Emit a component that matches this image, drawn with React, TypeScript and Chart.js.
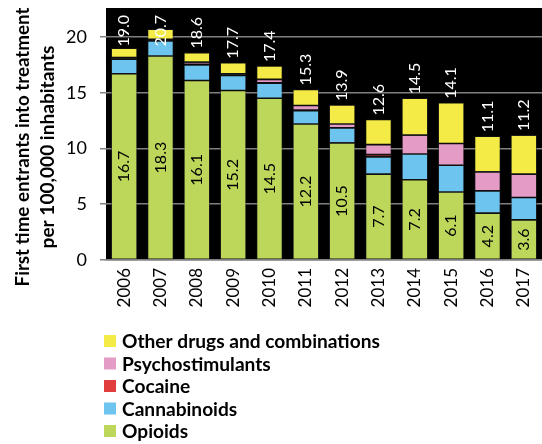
import React, { useEffect, useRef } from 'react';
import { Chart, registerables } from 'chart.js';

Chart.register(...registerables);

const years = ['2006', '2007', '2008', '2009', '2010', '2011', '2012', '2013', '2014', '2015', '2016', '2017'];
const opioids = [16.7, 18.3, 16.1, 15.2, 14.5, 12.2, 10.5, 7.7, 7.2, 6.1, 4.2, 3.6];
const cannabinoids = [1.3, 1.35, 1.4, 1.35, 1.35, 1.2, 1.35, 1.55, 2.3, 2.4, 2.0, 2.0];
const cocaine = [0.15, 0.05, 0.05, 0.05, 0.05, 0.05, 0.0, 0.2, 0.0, 0.0, 0.0, 0.0];
const psychostimulants = [0.0, 0.1, 0.2, 0.1, 0.3, 0.4, 0.35, 0.9, 1.7, 1.95, 1.7, 2.1];
const otherDrugs = [0.85, 0.9, 0.85, 1.0, 1.2, 1.45, 1.7, 2.25, 3.3, 3.65, 3.2, 3.5];

const yTicks = [0, 5, 10, 15, 20];
const seriesNames = ['Opioids', 'Cannabinoids', 'Cocaine', 'Psychostimulants', 'Other drugs and combinations'];
const seriesColors = ['#BDD75B', '#6DC4EE', '#E23D3D', '#E49BC6', '#F5EB47'];
const titleLines = ['First time entrants into treatment', 'per 100,000 inhabitants'];

const FONT = 'Lato, "Open Sans", sans-serif';

function fitSize(ctx: CanvasRenderingContext2D, text: string, weight: string, target: number) {
  ctx.font = `${weight} 100px ${FONT}`;
  return (100 * target) / ctx.measureText(text).width;
}

export default function App() {
  const ref = useRef<HTMLCanvasElement>(null);

  useEffect(() => {
    document.body.style.margin = '0';
    let chart: Chart | null = null;
    let cancelled = false;
    const canvas = ref.current!;
    const series = [opioids, cannabinoids, cocaine, psychostimulants, otherDrugs];
    const totals = years.map((_, i) => series.reduce((s, a) => s + a[i], 0));

    const bgPlugin = {
      id: 'bg',
      beforeDraw(c: any) {
        const { ctx, chartArea: a } = c;
        ctx.save();
        ctx.fillStyle = '#000';
        ctx.fillRect(a.left, a.top, a.right - a.left, a.bottom - a.top);
        ctx.restore();
      },
    };

    const labelPlugin = {
      id: 'barLabels',
      afterDatasetsDraw(c: any) {
        const { ctx, chartArea } = c;
        const meta = c.getDatasetMeta(0);
        const yScale = c.scales.y;
        ctx.save();
        ctx.font = `16px ${FONT}`;
        meta.data.forEach((el: any, i: number) => {
          const { x, y, base } = el.getProps(['x', 'y', 'base'], true);
          ctx.save();
          ctx.translate(x, (y + base) / 2);
          ctx.rotate(-Math.PI / 2);
          ctx.textAlign = 'center';
          ctx.textBaseline = 'middle';
          ctx.fillStyle = '#000';
          ctx.fillText(opioids[i].toFixed(1), 0, 0);
          ctx.restore();

          const txt = (Math.round(totals[i] * 10) / 10).toFixed(1);
          const w = ctx.measureText(txt).width;
          const top = yScale.getPixelForValue(totals[i]);
          let anchor = top - 4;
          const minAnchor = chartArea.top + 7 + w;
          if (anchor < minAnchor) anchor = minAnchor;
          ctx.save();
          ctx.translate(x, anchor);
          ctx.rotate(-Math.PI / 2);
          ctx.textAlign = 'left';
          ctx.textBaseline = 'middle';
          ctx.fillStyle = '#fff';
          ctx.fillText(txt, 0, 0);
          ctx.restore();
        });
        ctx.restore();
      },
    };

    const textPlugin = {
      id: 'texts',
      afterDraw(c: any) {
        const ctx: CanvasRenderingContext2D = c.ctx;
        ctx.save();
        const titleTargets = [279, 203];
        const titleX = [23, 48];
        titleLines.forEach((line, k) => {
          const size = fitSize(ctx, line, 'bold', titleTargets[k]);
          ctx.save();
          ctx.font = `bold ${size}px ${FONT}`;
          ctx.fillStyle = '#000';
          ctx.translate(titleX[k], 147);
          ctx.rotate(-Math.PI / 2);
          ctx.textAlign = 'center';
          ctx.textBaseline = 'middle';
          ctx.fillText(line, 0, 0);
          ctx.restore();
        });
        const lsize = fitSize(ctx, seriesNames[4], 'bold', 258);
        ctx.font = `bold ${lsize}px ${FONT}`;
        ctx.textAlign = 'left';
        ctx.textBaseline = 'middle';
        for (let r = 0; r < 5; r++) {
          const di = 4 - r;
          const cy = 341 + r * 22.5;
          ctx.fillStyle = seriesColors[di];
          ctx.fillRect(104, cy - 6, 12, 12);
          ctx.fillStyle = '#000';
          ctx.fillText(seriesNames[di], 122, cy + 1);
        }
        ctx.restore();
      },
    };

    const zeroPad = (s: any) => {
      s.paddingTop = 0;
      s.paddingBottom = 0;
      s.paddingLeft = 0;
      s.paddingRight = 0;
    };

    const build = () => {
      if (cancelled) return;
      chart = new Chart(canvas, {
        type: 'bar',
        data: {
          labels: years,
          datasets: series.map((data, k) => ({
            label: seriesNames[k],
            data,
            backgroundColor: seriesColors[k],
            borderColor: 'rgba(40,40,40,0.75)',
            borderWidth: (ctx: any) => (ctx.raw ? 0.8 : 0),
            borderSkipped: false,
            barPercentage: 0.716,
            categoryPercentage: 1,
          })),
        },
        options: {
          responsive: false,
          animation: false,
          devicePixelRatio: 1,
          layout: { padding: { top: 8, bottom: 132, left: 0, right: 0 } },
          plugins: {
            legend: { display: false },
            tooltip: { enabled: false },
            title: { display: false },
          },
          scales: {
            x: {
              stacked: true,
              grid: { display: false, drawTicks: false },
              border: { display: true, color: '#808080', width: 1.5 },
              ticks: {
                font: { family: FONT, size: 17 },
                color: '#000',
                minRotation: 90,
                maxRotation: 90,
                padding: 8,
                autoSkip: false,
              },
              afterFit: (s: any) => {
                s.height = 52;
                zeroPad(s);
              },
            },
            y: {
              stacked: true,
              min: 0,
              max: 22.6,
              afterBuildTicks: (s: any) => {
                s.ticks = yTicks.map((v) => ({ value: v }));
              },
              grid: { color: '#808080', lineWidth: 1.5, tickLength: 6 },
              border: { display: false },
              ticks: { font: { family: FONT, size: 18 }, color: '#000', padding: 13 },
              afterFit: (s: any) => {
                s.width = 106;
                zeroPad(s);
              },
            },
          },
        },
        plugins: [bgPlugin, labelPlugin, textPlugin],
      } as any);
    };

    const fonts = (document as any).fonts;
    if (fonts && fonts.load) {
      Promise.all([fonts.load(`16px Lato`), fonts.load(`bold 16px Lato`)]).then(build, build);
    } else {
      build();
    }

    return () => {
      cancelled = true;
      if (chart) chart.destroy();
    };
  }, []);

  return (
    <div style={{ width: 542, height: 444 }}>
      <canvas ref={ref} width={542} height={444} style={{ display: 'block', width: 542, height: 444 }} />
    </div>
  );
}
